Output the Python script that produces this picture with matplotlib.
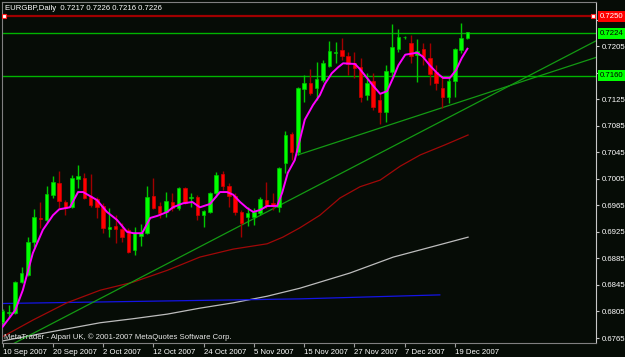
import matplotlib
matplotlib.use('Agg')
import matplotlib.pyplot as plt
from matplotlib.patches import Rectangle

# daily candles, 10 Sep 2007 .. 21 Dec 2007
opens = [0.6789, 0.6803, 0.6803, 0.6849, 0.6860, 0.6910, 0.6946, 0.6943, 0.6981, 0.6999,
         0.6970, 0.6962, 0.7005, 0.7006, 0.6979, 0.6975, 0.6964, 0.6929, 0.6934, 0.6929,
         0.6928, 0.6898, 0.6919, 0.6923, 0.6979, 0.6964, 0.6955, 0.6970, 0.6961, 0.6991,
         0.6976, 0.6977, 0.6950, 0.6955, 0.6984, 0.7012, 0.6994, 0.6979, 0.6955, 0.6947,
         0.6947, 0.6953, 0.6973, 0.6968, 0.6962, 0.7029, 0.7072, 0.7045, 0.7140, 0.7149,
         0.7142, 0.7154, 0.7175, 0.7195, 0.7199, 0.7190, 0.7179, 0.7173, 0.7131, 0.7152,
         0.7124, 0.7106, 0.7166, 0.7201, 0.7218, 0.7210, 0.7192, 0.7201, 0.7187, 0.7166,
         0.7142, 0.7128, 0.7152, 0.7199, 0.7217]
highs = [0.6809, 0.6815, 0.6851, 0.6872, 0.6917, 0.6959, 0.6970, 0.6994, 0.7009, 0.7017,
         0.6973, 0.7011, 0.7026, 0.7014, 0.7012, 0.6977, 0.6968, 0.6961, 0.6950, 0.6938,
         0.6931, 0.6932, 0.6937, 0.6994, 0.7006, 0.6970, 0.6985, 0.6984, 0.6993, 0.6993,
         0.6984, 0.6980, 0.6958, 0.6985, 0.7015, 0.7017, 0.6999, 0.6984, 0.6958, 0.6962,
         0.6961, 0.6977, 0.7000, 0.6984, 0.7023, 0.7077, 0.7075, 0.7143, 0.7161, 0.7170,
         0.7181, 0.7184, 0.7213, 0.7211, 0.7217, 0.7196, 0.7196, 0.7187, 0.7164, 0.7164,
         0.7133, 0.7176, 0.7238, 0.7231, 0.7220, 0.7222, 0.7216, 0.7210, 0.7210, 0.7176,
         0.7158, 0.7158, 0.7202, 0.7240, 0.7226]
lows = [0.6785, 0.6797, 0.6801, 0.6848, 0.6858, 0.6902, 0.6931, 0.6938, 0.6976, 0.6961,
        0.6950, 0.6961, 0.6991, 0.6974, 0.6962, 0.6946, 0.6923, 0.6917, 0.6908, 0.6910,
        0.6893, 0.6890, 0.6904, 0.6922, 0.6959, 0.6946, 0.6947, 0.6956, 0.6958, 0.6967,
        0.6962, 0.6943, 0.6932, 0.6953, 0.6977, 0.6988, 0.6962, 0.6950, 0.6917, 0.6934,
        0.6935, 0.6950, 0.6961, 0.6958, 0.6955, 0.7014, 0.7033, 0.7041, 0.7121, 0.7131,
        0.7124, 0.7151, 0.7173, 0.7179, 0.7184, 0.7161, 0.7157, 0.7121, 0.7124, 0.7109,
        0.7088, 0.7091, 0.7158, 0.7196, 0.7216, 0.7179, 0.7151, 0.7176, 0.7146, 0.7139,
        0.7112, 0.7119, 0.7128, 0.7195, 0.7216]
closes = [0.6806, 0.6804, 0.6849, 0.6863, 0.6910, 0.6947, 0.6944, 0.6982, 0.7000, 0.6971,
          0.6961, 0.7006, 0.7009, 0.6976, 0.6965, 0.6962, 0.6931, 0.6932, 0.6929, 0.6917,
          0.6895, 0.6923, 0.6923, 0.6977, 0.6961, 0.6953, 0.6971, 0.6961, 0.6991, 0.6968,
          0.6977, 0.6950, 0.6956, 0.6984, 0.7011, 0.6994, 0.6979, 0.6955, 0.6938, 0.6953,
          0.6955, 0.6974, 0.6964, 0.6964, 0.7021, 0.7071, 0.7045, 0.7142, 0.7149, 0.7134,
          0.7155, 0.7179, 0.7198, 0.7196, 0.7190, 0.7178, 0.7172, 0.7128, 0.7149, 0.7113,
          0.7106, 0.7167, 0.7204, 0.7219, 0.7219, 0.7190, 0.7198, 0.7189, 0.7163, 0.7149,
          0.7128, 0.7152, 0.7201, 0.7217, 0.7226]

date_ticks = [0, 8, 16, 24, 32, 40, 48, 56, 64, 72]
date_labels = ['10 Sep 2007', '20 Sep 2007', '2 Oct 2007', '12 Oct 2007', '24 Oct 2007',
               '5 Nov 2007', '15 Nov 2007', '27 Nov 2007', '7 Dec 2007', '19 Dec 2007']
price_ticks = [0.6765, 0.6805, 0.6845, 0.6885, 0.6925, 0.6965, 0.7005, 0.7045,
               0.7085, 0.7125, 0.7165, 0.7205, 0.7245]

# indicator lines (bar index, price)
fast_ma_x = [0, 2, 3.2, 4.8, 6.4, 8, 9, 10.7, 12, 12.8, 15, 16.6, 18.2, 19.8, 20.8, 22.2,
             23.5, 24.6, 26.2, 27.1, 28.7, 30.2, 31.4, 33, 34.6, 35.7, 36.7, 37.8, 38.9,
             39.9, 41, 42.1, 43.7, 44.5, 45.4, 46.5, 47.3, 48.1, 49.4, 50.5, 51.3, 52.4,
             53.4, 54.2, 56.1, 56.9, 58, 59, 60.1, 61.2, 62.2, 63, 64.1, 66, 66.9, 68,
             69.2, 70.1, 71.2, 72.2, 73.1, 74]
fast_ma_y = [0.6782, 0.6807, 0.6837, 0.6893, 0.6928, 0.6950, 0.6959, 0.6962, 0.6985, 0.6985,
             0.6973, 0.6955, 0.6943, 0.6925, 0.6923, 0.6923, 0.6946, 0.6949, 0.6955, 0.6962,
             0.6968, 0.6970, 0.6962, 0.6967, 0.6985, 0.6985, 0.6981, 0.6970, 0.6961, 0.6955,
             0.6958, 0.6964, 0.6964, 0.6984, 0.7014, 0.7033, 0.7063, 0.7094, 0.7116, 0.7131,
             0.7148, 0.7164, 0.7173, 0.7179, 0.7178, 0.7170, 0.7157, 0.7145, 0.7133, 0.7137,
             0.7158, 0.7176, 0.7192, 0.7195, 0.7189, 0.7176, 0.7164, 0.7157, 0.7157, 0.7169,
             0.7187, 0.7201]
mid_ma_x = [0, 4.8, 10.2, 15.5, 20.7, 26.2, 31.4, 36.7, 42.1, 44.6, 47.3, 50.5, 53.7,
            56.9, 60.1, 63.3, 66.5, 70.4, 74.1]
mid_ma_y = [0.6767, 0.6792, 0.6818, 0.6837, 0.6849, 0.6867, 0.6887, 0.6899, 0.6907, 0.6917,
            0.6931, 0.6950, 0.6976, 0.6993, 0.7003, 0.7024, 0.7041, 0.7056, 0.7071]
slow_ma_x = [-0.4, 7.5, 15.5, 20.7, 26.2, 31.4, 36.7, 42.1, 47.3, 55.3, 62.2, 74.1]
slow_ma_y = [0.6760, 0.6774, 0.6788, 0.6794, 0.6801, 0.6810, 0.6818, 0.6828, 0.6840,
             0.6863, 0.6887, 0.6917]
blue_x = [-0.4, 47.3, 69.6]
blue_y = [0.6817, 0.6824, 0.6830]

trend_a_x = [47, 94.5]
trend_a_y = [0.7041, 0.7188]
trend_b_x = [1.6, 94.5]
trend_b_y = [0.6756, 0.7213]

resist_red = 0.7250
levels_green = [0.7224, 0.7160]

bg = '#060c06'
plt.rcParams['font.family'] = ['Liberation Sans', 'DejaVu Sans']
fs = 5.6

fig = plt.figure(figsize=(6.25, 3.57), dpi=100, facecolor=bg)
ax = fig.add_axes([2 / 625, 14 / 357, 594 / 625, 341 / 357])
ax.set_facecolor(bg)
ax.set_xlim(-0.11, 94.47)
ax.set_ylim(0.67575, 0.72714)

# overlays under the candles
ax.plot(slow_ma_x, slow_ma_y, color='#bdbdbd', lw=0.9, zorder=2)
ax.plot(blue_x, blue_y, color='#1414e6', lw=0.9, zorder=2)
ax.plot(mid_ma_x, mid_ma_y, color='#a00808', lw=0.9, zorder=2)
ax.plot(trend_a_x, trend_a_y, color='#139a13', lw=0.9, zorder=2)
ax.plot(trend_b_x, trend_b_y, color='#139a13', lw=0.9, zorder=2)
for lv in levels_green:
    ax.axhline(lv, color='#00b400', lw=1.0, zorder=2)
ax.axhline(resist_red, color='#a00000', lw=1.6, zorder=2)
ax.plot([0.2, 94.0], [resist_red, resist_red], 's', ms=3, mfc='white', mec='#ff2020',
        mew=0.8, zorder=6)

# candles
idx = list(range(len(opens)))
up = [c >= o for o, c in zip(opens, closes)]
wick_col = ['#00c800' if u else '#a00000' for u in up]
body_col = ['#00ff00' if u else '#ff0000' for u in up]
edge_col = ['#00c000' if u else '#d00000' for u in up]
ax.vlines(idx, lows, highs, colors=wick_col, lw=1.0, zorder=3)
bottoms = [min(o, c) for o, c in zip(opens, closes)]
heights = [max(abs(c - o), 0.00013) for o, c in zip(opens, closes)]
ax.bar(idx, heights, bottom=bottoms, width=0.56, color=body_col, edgecolor=edge_col,
       linewidth=0.5, zorder=4)

ax.plot(fast_ma_x, fast_ma_y, color='#ff00ff', lw=1.4, zorder=5)

# axes look
for side in ['left', 'top', 'bottom']:
    ax.spines[side].set_color('#808080')
ax.spines['right'].set_color('#c8c8c8')
ax.yaxis.tick_right()
ax.set_yticks(price_ticks)
ax.set_yticklabels(['%.4f' % v for v in price_ticks])
ax.tick_params(axis='y', colors='#c8c8c8', labelcolor='white', labelsize=fs,
               length=2, width=0.8, pad=2)
ax.set_xticks(date_ticks)
ax.set_xticklabels(date_labels)
ax.tick_params(axis='x', colors='#a0a0a0', labelcolor='white', labelsize=fs,
               length=3, width=0.8, pad=1)
for lab in ax.get_xticklabels():
    lab.set_ha('left')

# header and watermark
fig.text(5 / 625, 1 - 8 / 357, 'EURGBP,Daily  0.7217 0.7226 0.7216 0.7226',
         color='white', fontsize=fs, va='center', ha='left')
fig.text(4 / 625, 1 - 337 / 357,
         'MetaTrader - Alpari UK, \u00a9 2001-2007 MetaQuotes Software Corp.',
         color='#e8e8e8', fontsize=fs, va='center', ha='left', zorder=10)

# price labels of the horizontal lines (they cover part of the axis labels, as in MT4)
boxes = [(resist_red, '#ff0000', 'white'), (levels_green[0], '#00ff00', 'black'),
         (levels_green[1], '#00ff00', 'black')]
for val, fc, tc in boxes:
    ypix = 338 - (val - 0.6765) * 6636
    fig.patches.append(Rectangle((598 / 625, 1 - (ypix + 5.5) / 357), 27 / 625, 11 / 357,
                                 transform=fig.transFigure, facecolor=fc,
                                 edgecolor='none', zorder=5))
    fig.text(600 / 625, 1 - ypix / 357, '%.4f' % val, color=tc, fontsize=fs,
             va='center', ha='left', zorder=6)

fig.savefig('out.png', dpi=100, facecolor=bg)
